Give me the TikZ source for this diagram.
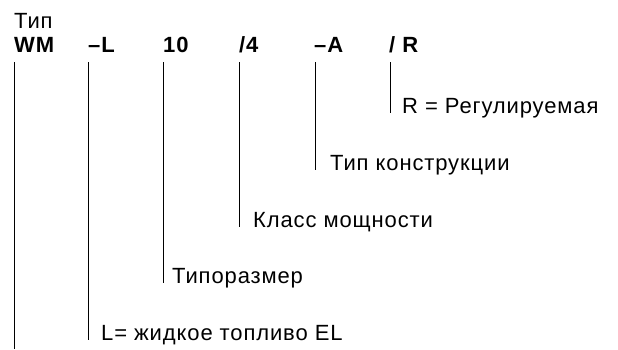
\documentclass[tikz,border=0pt]{standalone}
\usepackage{fontspec}
\setmainfont{Liberation Sans}[LetterSpace=4]
\usetikzlibrary{positioning}

\begin{document}
\begin{tikzpicture}
	[x=1pt,y=-1pt,
	code/.style={anchor=base west,inner sep=0pt,font=\fontsize{22}{24}\selectfont\bfseries},
	label/.style={anchor=base west,inner sep=0pt,font=\fontsize{22}{24}\selectfont},
	stem/.style={black,line width=0.9pt}]
	\useasboundingbox (0,0) rectangle (618,349);

	%kopfzeile
	\node[label] (typ) at (14,28) {Тип};
	\node[code] (hwm) at (14,52) {WM};
	\node[code] (hl) at (88,52) {–L};
	\node[code] (hsize) at (163,52) {10};
	\node[code] (hpower) at (239,52) {/4};
	\node[code] (hkind) at (314,52) {–A};
	\node[code] (hreg) at (389,52) {/ R};

	%erklaerungen
	\node[label] (lreg) at (402,113) {R = Регулируемая};
	\node[label] (lkind) at (330,170) {Тип конструкции};
	\node[label] (lpower) at (253,227) {Класс мощности};
	\node[label] (lsize) at (172,283) {Типоразмер};
	\node[label] (ll) at (101,340) {L= жидкое топливо EL};
	\coordinate (wmend) at (14.5,349);

	\draw[stem] ([shift={(0.5,10)}]hwm.base west) -- (wmend);
	\draw[stem] ([shift={(0.5,10)}]hl.base west) -- ([xshift=0.5pt]hl.base west |- ll.base);
	\draw[stem] ([shift={(0.5,10)}]hsize.base west) -- ([xshift=0.5pt]hsize.base west |- lsize.base);
	\draw[stem] ([shift={(0.5,10)}]hpower.base west) -- ([xshift=0.5pt]hpower.base west |- lpower.base);
	\draw[stem] ([shift={(1,10)}]hkind.base west) -- ([xshift=1pt]hkind.base west |- lkind.base);
	\draw[stem] ([shift={(1.5,10)}]hreg.base west) -- ([xshift=1.5pt]hreg.base west |- lreg.base);
\end{tikzpicture}
\end{document}
